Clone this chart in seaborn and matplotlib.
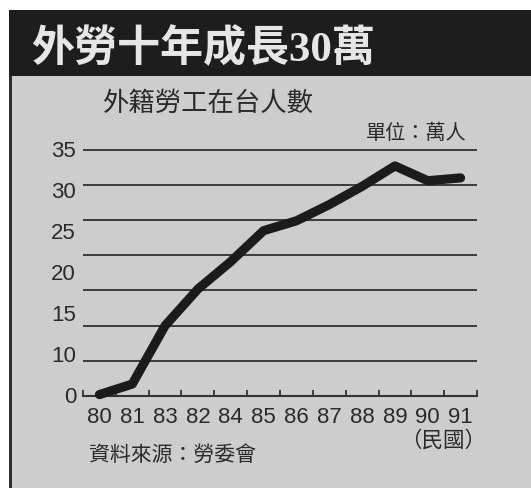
import numpy as np
import pandas as pd
import matplotlib
matplotlib.use("Agg")
import matplotlib.pyplot as plt
from matplotlib.patches import Rectangle
import seaborn as sns

# Foreign workers in Taiwan (10k persons), ROC years 80-91
year_labels = ["80", "81", "83", "82", "84", "85", "86", "87", "88", "89", "90", "91"]
workers = [0.2, 1.7, 10.0, 15.2, 19.1, 23.5, 24.9, 27.2, 29.8, 32.7, 30.6, 31.0]
ytick_labels = ["35", "30", "25", "20", "15", "10", "0"]
grid_values = [5, 10, 15, 20, 25, 30, 35]

title = "外勞十年成長30萬"
subtitle = "外籍勞工在台人數"
unit_note = "單位：萬人"
era_note = "（民國）"
source_note = "資料來源：勞委會"

sns.set_theme(style="white")
plt.rcParams["font.family"] = ["Liberation Sans", "Noto Sans CJK TC", "DejaVu Sans"]

W, H = 531, 489
fig = plt.figure(figsize=(W / 100, H / 100), dpi=100)
fig.patch.set_facecolor("white")

def fx(px):
    return px / W

def fy(py):
    return 1 - py / H

panel_grey = "#cdcdcd"
ink = "#2a2a2a"

# grey panel, left rule and black header band
fig.add_artist(Rectangle((fx(12), 0), 1 - fx(12), fy(76), transform=fig.transFigure,
                         facecolor=panel_grey, edgecolor="none", zorder=0))
fig.add_artist(Rectangle((fx(9), 0), fx(3), fy(76), transform=fig.transFigure,
                         facecolor="#2e2e2e", edgecolor="none", zorder=0))
fig.add_artist(Rectangle((fx(9), fy(77)), 1 - fx(9), fy(11) - fy(77), transform=fig.transFigure,
                         facecolor="#1d1d1d", edgecolor="none", zorder=0))

fig.text(fx(31), fy(49), title, color="#e6e6e6", fontsize=31, va="center", ha="left",
         family=["Liberation Serif", "Noto Sans CJK TC"], weight="bold")

ax = fig.add_axes([fx(83), fy(397), fx(477) - fx(83), fy(149) - fy(397)])
ax.patch.set_alpha(0)

df = pd.DataFrame({"pos": np.arange(len(workers)), "workers": workers})
for v in grid_values:
    ax.axhline(v, color="#3a3a3a", lw=1.4, zorder=1)

sns.lineplot(data=df, x="pos", y="workers", ax=ax, color="#1b1b1b", lw=6.6,
             solid_joinstyle="round", solid_capstyle="round", zorder=3, clip_on=False)

ax.set_xlim(-0.5, len(workers) - 0.5)
ax.set_ylim(0, 35)
ax.set_xlabel("")
ax.set_ylabel("")

for s in ["top", "right", "left"]:
    ax.spines[s].set_visible(False)
ax.spines["bottom"].set_color("#333333")
ax.spines["bottom"].set_linewidth(1.5)

ax.set_xticks(np.arange(len(year_labels)))
ax.set_xticklabels(year_labels)
ax.set_xticks(np.arange(len(year_labels) + 1) - 0.5, minor=True)
ax.tick_params(axis="x", which="major", length=0, pad=7, labelsize=16, labelcolor=ink)
ax.tick_params(axis="x", which="minor", direction="in", length=4, width=1.3,
               color="#333333", bottom=True)

ax.set_yticks(np.linspace(35, 0, len(ytick_labels)) + 0.25)
ax.set_yticklabels(ytick_labels)
ax.tick_params(axis="y", length=0, pad=5, labelsize=16, labelcolor=ink)

fig.text(fx(103), fy(104), subtitle, color=ink, fontsize=19, va="center", ha="left")
fig.text(fx(466), fy(133), unit_note, color=ink, fontsize=14.5, va="center", ha="right")
fig.text(fx(486), fy(441), era_note, color=ink, fontsize=15.5, va="center", ha="right")
fig.text(fx(89), fy(455), source_note, color=ink, fontsize=15, va="center", ha="left")

fig.savefig("out.png", dpi=100, facecolor=fig.get_facecolor())
